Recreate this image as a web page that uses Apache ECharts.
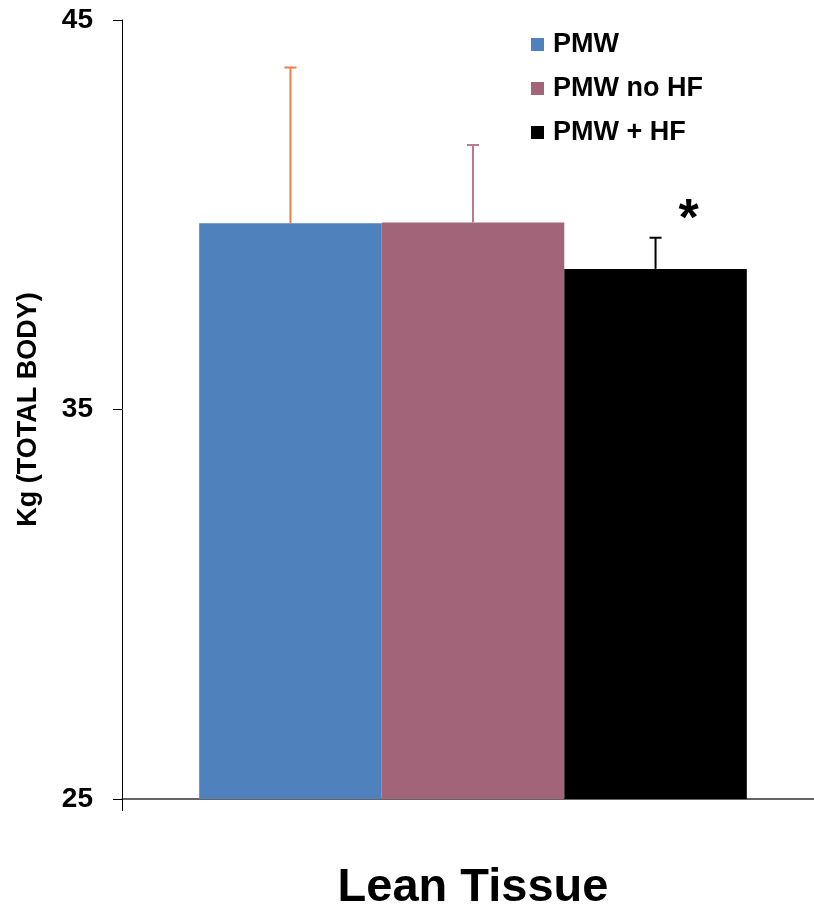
<!DOCTYPE html>
<html>
<head>
<meta charset="utf-8">
<style>
  html, body { margin: 0; padding: 0; background: #fff; }
  #chart { width: 814px; height: 917px; }
</style>
<script src="https://cdn.jsdelivr.net/npm/echarts@6/dist/echarts.min.js"></script>
</head>
<body>
<div id="chart"></div>
<script>
// Lean tissue mass (kg, total body) by group, with SD error bars
const categories = ['Lean Tissue'];
const groupNames = ['PMW', 'PMW no HF', 'PMW + HF'];
const means = [39.78, 39.80, 38.61];
const sds = [4.00, 1.99, 0.80];
const sigMarks = ['', '', '*'];
const yTicks = [25, 35, 45];

const barColors = ['#4F81BD', '#A16479', '#000000'];
const errColors = ['#F47C48', '#B57B90', '#000000'];
const FONT = '"Liberation Sans", Arial, sans-serif';
const CAT_GAP = 0.197;

const yMin = yTicks[0];
const yMax = yTicks[yTicks.length - 1];
const yStep = yTicks[1] - yTicks[0];

const chart = echarts.init(document.getElementById('chart'), null, { renderer: 'canvas' });

const barSeries = groupNames.map((name, i) => ({
  name: name,
  type: 'bar',
  xAxisIndex: 0,
  yAxisIndex: 0,
  barGap: 0,
  barCategoryGap: (CAT_GAP * 100) + '%',
  itemStyle: { color: barColors[i] },
  data: [means[i]],
  z: 2
}));

const errData = groupNames.map((_, i) => [0, i, means[i], sds[i]]);

function renderErr(params, api) {
  const idx = api.value(1);
  const mean = api.value(2);
  const sd = api.value(3);
  const base = api.coord([0, mean]);
  const top = api.coord([0, mean + sd]);
  const bandW = api.size([1, 0])[0];
  const barW = bandW * (1 - CAT_GAP) / 3;
  const x = base[0] + (idx - 1) * barW;
  const col = errColors[idx];
  const cap = 6;
  const children = [
    { type: 'line', shape: { x1: x, y1: base[1], x2: x, y2: top[1] }, style: { stroke: col, lineWidth: 2 } },
    { type: 'line', shape: { x1: x - cap, y1: top[1], x2: x + cap, y2: top[1] }, style: { stroke: col, lineWidth: 2 } }
  ];
  if (sigMarks[idx]) {
    children.push({
      type: 'text',
      style: {
        text: sigMarks[idx],
        x: x + 33,
        y: top[1] - 17,
        fill: '#000',
        font: 'bold 52px ' + FONT,
        textAlign: 'center',
        textVerticalAlign: 'middle'
      }
    });
  }
  return { type: 'group', children: children };
}

chart.setOption({
  animation: false,
  backgroundColor: '#ffffff',
  // grid 0 holds the bars; grid 1 carries the visible axis frame
  grid: [
    { left: 132, right: 0, top: 20, bottom: 118, containLabel: false },
    { left: 122, right: 0, top: 20, bottom: 118, containLabel: false }
  ],
  legend: {
    data: groupNames,
    orient: 'vertical',
    left: 531,
    top: 31,
    padding: 0,
    icon: 'rect',
    itemWidth: 13,
    itemHeight: 13,
    itemGap: 17,
    selectedMode: false,
    textStyle: { fontFamily: FONT, fontWeight: 'bold', fontSize: 27, color: '#000', padding: [0, 0, 0, 4] }
  },
  xAxis: [
    {
      type: 'category',
      gridIndex: 0,
      data: categories,
      axisLine: { show: false },
      axisTick: { show: false },
      axisLabel: { show: true, fontFamily: FONT, fontWeight: 'bold', fontSize: 47, color: '#000', margin: 66 },
      splitLine: { show: false }
    },
    {
      type: 'category',
      gridIndex: 1,
      data: categories,
      axisLine: { show: true, lineStyle: { color: '#333', width: 1.5 } },
      axisTick: { show: true, length: 12, lineStyle: { color: '#000' } },
      axisLabel: { show: false },
      splitLine: { show: false }
    }
  ],
  yAxis: [
    {
      type: 'value',
      gridIndex: 0,
      min: yMin,
      max: yMax,
      interval: yStep,
      show: false
    },
    {
      type: 'value',
      gridIndex: 1,
      min: yMin,
      max: yMax,
      interval: yStep,
      name: 'Kg (TOTAL BODY)',
      nameLocation: 'middle',
      nameRotate: 90,
      nameGap: 80,
      nameTextStyle: { fontFamily: FONT, fontWeight: 'bold', fontSize: 27, color: '#000' },
      axisLine: { show: true, lineStyle: { color: '#000', width: 1 } },
      axisTick: { show: true, length: 9, lineStyle: { color: '#000' } },
      axisLabel: { fontFamily: FONT, fontWeight: 'bold', fontSize: 28, color: '#000', margin: 29 },
      splitLine: { show: false }
    }
  ],
  series: barSeries.concat([{
    type: 'custom',
    name: 'error',
    xAxisIndex: 0,
    yAxisIndex: 0,
    renderItem: renderErr,
    data: errData,
    encode: { x: 0, y: 2 },
    clip: false,
    z: 5,
    silent: true
  }])
});
</script>
</body>
</html>
